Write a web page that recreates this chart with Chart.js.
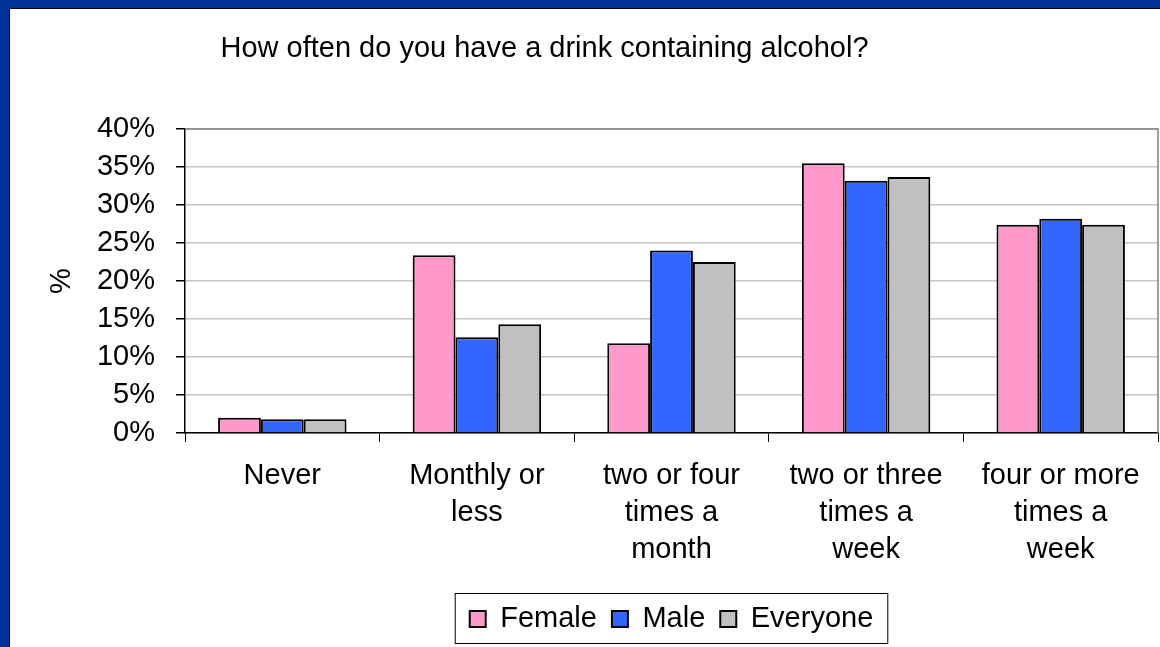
<!DOCTYPE html>
<html>
<head>
<meta charset="utf-8">
<script src="https://cdn.jsdelivr.net/npm/chart.js@4"></script>
<style>
  body { margin: 0; background: #003399; width: 1160px; height: 647px; overflow: hidden; }
  #wrap { position: absolute; left: 9px; top: 8px; width: 1151px; height: 639px;
          border-left: 1px solid #000; border-top: 1px solid #000; background: #fff; }
</style>
</head>
<body>
<div id="wrap"><canvas id="chart"></canvas></div>
<script>
// data
const titleText = 'How often do you have a drink containing alcohol?'
const categories = [
  ['Never'],
  ['Monthly or', 'less'],
  ['two or four', 'times a', 'month'],
  ['two or three', 'times a', 'week'],
  ['four or more', 'times a', 'week']
]
const female = [2.0, 23.4, 11.8, 35.5, 27.4]
const male = [1.8, 12.6, 24.0, 33.2, 28.2]
const everyone = [1.8, 14.3, 22.5, 33.7, 27.4]
const yTicks = [0, 5, 10, 15, 20, 25, 30, 35, 40]

const FONT = "'Liberation Sans', Arial, sans-serif"

// title drawn a bit left of centre like the original
const titlePlugin = {
  id: 'titleText',
  afterDraw(chart) {
    const ctx = chart.ctx
    ctx.save()
    ctx.font = '29px ' + FONT
    ctx.fillStyle = '#000'
    ctx.textAlign = 'center'
    ctx.textBaseline = 'alphabetic'
    ctx.fillText(titleText, chart.width / 2 - 41, 48)
    ctx.restore()
  }
}

// grey frame on top/right of plot, black axes left/bottom
const framePlugin = {
  id: 'plotFrame',
  beforeDatasetsDraw(chart) {
    const {ctx, chartArea: a} = chart
    ctx.save()
    ctx.strokeStyle = '#808080'
    ctx.lineWidth = 1.5
    ctx.beginPath()
    ctx.moveTo(a.left, a.top)
    ctx.lineTo(a.right, a.top)
    ctx.lineTo(a.right, a.bottom)
    ctx.stroke()
    ctx.restore()
  }
}

// box around the legend
const legendBoxPlugin = {
  id: 'legendBox',
  afterDraw(chart) {
    const boxes = chart.legend.legendHitBoxes
    if (!boxes || !boxes.length) return
    const ctx = chart.ctx
    const first = boxes[0], last = boxes[boxes.length - 1]
    const cy = first.top + first.height / 2
    ctx.save()
    ctx.strokeStyle = '#000'
    ctx.lineWidth = 1
    ctx.strokeRect(first.left - 14.5, cy - 25.5, (last.left + last.width) - first.left + 29, 50)
    ctx.restore()
  }
}

const ctx = document.getElementById('chart')

new Chart(ctx, {
  type: 'bar',
  data: {
    labels: categories,
    datasets: [
      { label: 'Female', data: female, backgroundColor: '#ff99cc', borderColor: '#000', borderWidth: 2 },
      { label: 'Male', data: male, backgroundColor: '#3366ff', borderColor: '#000', borderWidth: 2 },
      { label: 'Everyone', data: everyone, backgroundColor: '#c0c0c0', borderColor: '#000', borderWidth: 2 }
    ]
  },
  options: {
    responsive: true,
    maintainAspectRatio: false,
    animation: false,
    layout: { padding: { top: 120, left: 0, right: 3, bottom: 4.5 } },
    datasets: { bar: { categoryPercentage: 0.66, barPercentage: 1.0 } },
    scales: {
      x: {
        afterFit(scale) { scale.height = 156.5 },
        grid: { drawOnChartArea: false, drawTicks: true, tickLength: 9, tickColor: '#000', offset: true },
        border: { color: '#000', width: 1.5 },
        ticks: { color: '#000', maxRotation: 0, padding: 16,
                 font: { family: FONT, size: 29, lineHeight: 1.266 } }
      },
      y: {
        min: 0,
        max: 40,
        afterFit(scale) { scale.width = 175 },
        afterBuildTicks(scale) { scale.ticks = yTicks.map(v => ({ value: v })) },
        grid: { color: '#c4c4c4', lineWidth: 1.5, tickLength: 9, tickColor: '#000' },
        border: { color: '#000', width: 1.5 },
        ticks: { color: '#000', padding: 21, callback: v => v + '%',
                 font: { family: FONT, size: 29 } },
        title: { display: true, text: '%', color: '#000', padding: { top: 35, bottom: 0 },
                 font: { family: FONT, size: 29 } }
      }
    },
    plugins: {
      legend: {
        position: 'bottom',
        fullSize: false,
        labels: { color: '#000', boxWidth: 16, boxHeight: 16, padding: 15,
                  font: { family: FONT, size: 29 } }
      },
      tooltip: { enabled: false }
    }
  },
  plugins: [titlePlugin, framePlugin, legendBoxPlugin]
})
</script>
</body>
</html>
